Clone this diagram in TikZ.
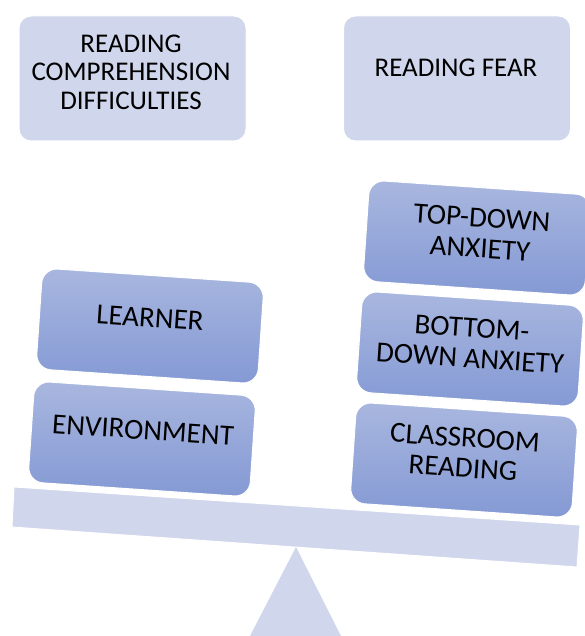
\documentclass[tikz,border=0pt]{standalone}
\usepackage{fontspec}
\setmainfont{Carlito}
\definecolor{pale}{HTML}{D0D6EB}
\definecolor{gtop}{HTML}{A9B7DF}
\definecolor{gbot}{HTML}{8499D4}
\begin{document}
\begin{tikzpicture}[x=1pt,y=-1pt,
  pbox/.style={fill=pale, draw=white, line width=1pt, rounded corners=12pt, minimum width=227pt, minimum height=125pt, inner sep=0pt},
  gbox/.style={top color=gtop, bottom color=gbot, draw=white, line width=1pt, rounded corners=15pt, minimum width=222pt, minimum height=101pt, rotate=-3.9, inner sep=0pt},
  lbl/.style={font=\fontsize{27}{28.5}\selectfont, align=center, inner sep=0pt, text=black},
  rlbl/.style={font=\fontsize{29}{30.5}\selectfont, align=center, inner sep=0pt, text=black, rotate=-3.9},
  part/.style={fill=pale, draw=white, line width=1pt}
]
\useasboundingbox (0,0) rectangle (585,636);
\begin{scope}
\clip (0,0) rectangle (585,636);
% fulcrum and beam
\fill[pale] (296,547) -- (250,636) -- (341,636) -- cycle;
\draw[part] (14,487) -- (580,525) -- (577,567) -- (12,527) -- cycle;

% top boxes
\node[pbox] (rcd) at (132.5,78.5) {};
\node[lbl] (rcdt) at (131,72) {READING\\COMPREHENSION\\DIFFICULTIES};
\node[pbox] (rf) at (457,78.5) {};
\node[lbl] (rft) at (456,68) {READING FEAR};

% left pan
\node[gbox] (learner) at (150,326) {};
\node[rlbl] (learnert) at (150,318) {LEARNER};
\node[gbox] (env) at (142,439) {};
\node[rlbl] (envt) at (143,430) {ENVIRONMENT};

% right pan
\node[gbox] (tda) at (477,238) {};
\node[rlbl] (tdat) at (481,233) {TOP-DOWN\\ANXIETY};
\node[gbox] (bda) at (470,349) {};
\node[rlbl] (bdat) at (471,343) {BOTTOM-\\DOWN ANXIETY};
\node[gbox] (cr) at (464,460) {};
\node[rlbl] (crt) at (464,453) {CLASSROOM\\READING};
\end{scope}
\end{tikzpicture}
\end{document}
